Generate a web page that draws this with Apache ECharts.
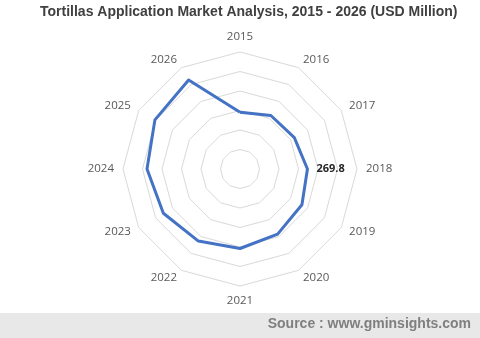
<!DOCTYPE html>
<html>
<head>
<meta charset="utf-8">
<script src="https://cdn.jsdelivr.net/npm/echarts@6/dist/echarts.min.js"></script>
<style>html,body{margin:0;padding:0;background:#fff;}#c{width:480px;height:338px;}</style>
</head>
<body>
<div id="c"></div>
<script>
var titleText = 'Tortillas Application Market Analysis, 2015 - 2026 (USD Million)';
var sourceText = 'Source : www.gminsights.com';
var years = ['2015','2016','2017','2018','2019','2020','2021','2022','2023','2024','2025','2026'];
var values = [227, 247, 251, 269.8, 286, 301, 318, 333, 354, 372, 393, 411];
var labelledYear = '2018';
var axisMax = 468;

// ECharts radar runs counter-clockwise; reorder to draw clockwise like the reference
var order = [0];
for (var i = years.length - 1; i >= 1; i--) order.push(i);
var indicators = order.map(function (i) { return { name: years[i], max: axisMax, min: 0 }; });
var seriesData = order.map(function (i) { return values[i]; });
var labelValue = values[years.indexOf(labelledYear)];

var chart = echarts.init(document.getElementById('c'), null, { renderer: 'canvas' });
chart.setOption({
  animation: false,
  backgroundColor: '#ffffff',
  title: {
    text: titleText,
    left: 35,
    top: 0,
    textStyle: { fontFamily: 'Liberation Sans, Arial, sans-serif', fontSize: 14, fontWeight: 'bold', color: '#404040' }
  },
  radar: {
    center: [240, 169],
    radius: 117,
    startAngle: 90,
    splitNumber: 6,
    shape: 'polygon',
    nameGap: 9,
    indicator: indicators,
    axisName: { color: '#595959', fontSize: 11.5, fontFamily: 'Open Sans, Liberation Sans, sans-serif' },
    axisLine: { show: false },
    axisTick: { show: false },
    axisLabel: { show: false },
    splitArea: { show: false },
    splitLine: { lineStyle: { color: '#d9d9d9', width: 1 } }
  },
  series: [{
    type: 'radar',
    symbol: 'circle',
    symbolSize: 0,
    lineStyle: { color: '#4472c4', width: 3 },
    itemStyle: { color: '#4472c4' },
    label: {
      show: true,
      position: 'right',
      distance: 9,
      color: '#262626',
      fontSize: 11,
      fontWeight: 'bold',
      fontFamily: 'Open Sans, Liberation Sans, sans-serif',
      formatter: function (p) { return p.value === labelValue ? String(labelValue) : ''; }
    },
    data: [{ value: seriesData, name: 'Tortillas' }]
  }],
  graphic: [
    { type: 'rect', left: 0, top: 313, shape: { width: 480, height: 25 }, style: { fill: '#e8e8e8' }, silent: true },
    { type: 'text', right: 9, top: 317, style: { text: sourceText, fill: '#7f7f7f', font: 'bold 14px "Liberation Sans", Arial, sans-serif' }, silent: true }
  ]
});
</script>
</body>
</html>
